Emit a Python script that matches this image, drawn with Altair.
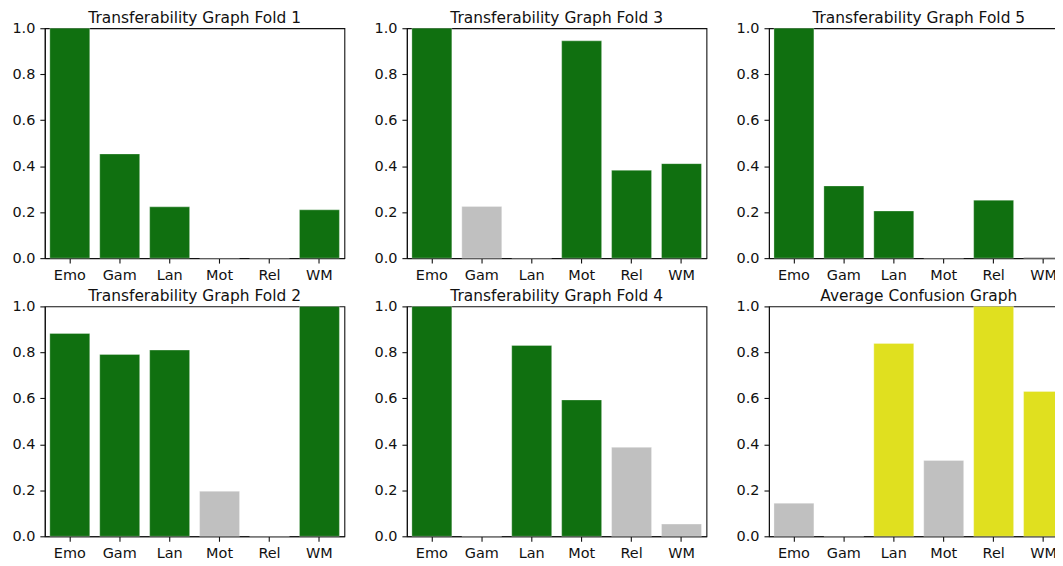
import altair as alt
import pandas as pd

categories = ["Emo", "Gam", "Lan", "Mot", "Rel", "WM"]

titles = [
    "Transferability Graph Fold 1",
    "Transferability Graph Fold 3",
    "Transferability Graph Fold 5",
    "Transferability Graph Fold 2",
    "Transferability Graph Fold 4",
    "Average Confusion Graph",
]

fold1 = [1.0, 0.453, 0.223, 0.0, 0.0, 0.210]
fold3 = [1.0, 0.225, 0.0, 0.945, 0.382, 0.411]
fold5 = [1.0, 0.314, 0.205, 0.0, 0.252, 0.005]
fold2 = [0.882, 0.791, 0.810, 0.196, 0.0, 1.0]
fold4 = [1.0, 0.0, 0.830, 0.593, 0.387, 0.053]
average = [0.144, 0.0, 0.839, 0.330, 1.0, 0.630]

colors1 = ["green", "green", "green", "green", "green", "green"]
colors3 = ["green", "gray", "green", "green", "green", "green"]
colors5 = ["green", "green", "green", "green", "green", "gray"]
colors2 = ["green", "green", "green", "gray", "green", "green"]
colors4 = ["green", "green", "green", "green", "gray", "gray"]
colors_avg = ["gray", "gray", "yellow", "gray", "yellow", "yellow"]

values = [fold1, fold3, fold5, fold2, fold4, average]
colors = [colors1, colors3, colors5, colors2, colors4, colors_avg]

color_scale = alt.Scale(
    domain=["green", "gray", "yellow"],
    range=["#107010", "#c0c0c0", "#e0e01f"],
)

W = 301
H = 231


def panel(title, vals, cols):
    df = pd.DataFrame({"cat": categories, "val": vals, "col": cols})
    return (
        alt.Chart(df, title=alt.TitleParams(title, fontSize=15.5, fontWeight="normal",
                                            font="DejaVu Sans", color="#111",
                                            offset=-5.75, frame="group"))
        .mark_bar(stroke="white", strokeWidth=0.6, strokeOpacity=0.5)
        .encode(
            x=alt.X("cat:N", sort=categories, title=None,
                    scale=alt.Scale(paddingInner=0.2, paddingOuter=0.1),
                    axis=alt.Axis(labelAngle=0, labelPadding=5)),
            y=alt.Y("val:Q", title=None, scale=alt.Scale(domain=[0, 1], nice=False),
                    axis=alt.Axis(values=[0, 0.2, 0.4, 0.6, 0.8, 1.0], format=".1f",
                                  labelPadding=5)),
            color=alt.Color("col:N", scale=color_scale, legend=None),
        )
        .properties(width=W, height=H)
    )


charts = [panel(t, v, c) for t, v, c in zip(titles, values, colors)]

row1 = alt.hconcat(*charts[:3], spacing=27.8)
row2 = alt.hconcat(*charts[3:], spacing=27.8)
chart = (
    alt.vconcat(row1, row2, spacing=4.5)
    .properties(padding={"left": 3, "top": 0, "right": -15, "bottom": 0})
    .configure_view(stroke="#111", strokeWidth=1.1)
    .configure_axis(
        labelFont="DejaVu Sans", labelFontSize=14.5, labelColor="#111",
        domainColor="#111", tickColor="#111", tickSize=5, grid=False,
        domainWidth=1.1, tickWidth=1.1,
    )
)

chart.save("out.html", embed_options={"renderer": "svg", "actions": False})
